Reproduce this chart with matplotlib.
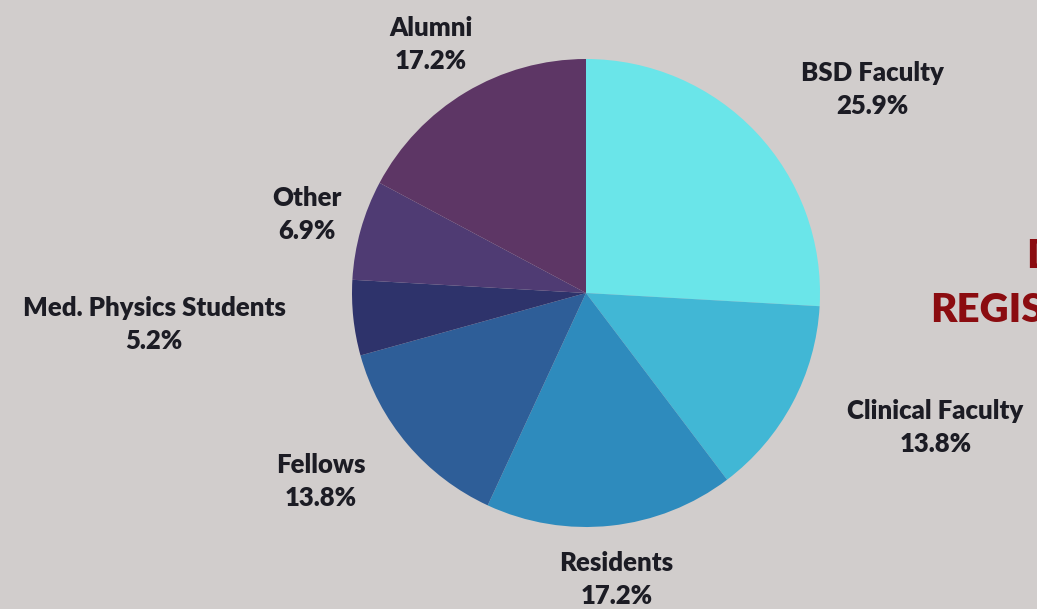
import numpy as np
import matplotlib
matplotlib.use('Agg')
import matplotlib.pyplot as plt

# data
groups = ['BSD Faculty', 'Clinical Faculty', 'Residents', 'Fellows',
          'Med. Physics Students', 'Other', 'Alumni']
shares = [25.9, 13.8, 17.2, 13.8, 5.2, 6.9, 17.2]
slice_colors = ['#6ae5e9', '#41b7d5', '#2e8bbd', '#2e5e98',
                '#2e336b', '#4f3b73', '#5d3665']

# how far out each label sits (in radii) and a small angle nudge
label_dist = [1.50, 1.60, 1.23, 1.39, 1.85, 1.24, 1.25]
label_nudge = [-8, 7, 0, -5, -2, 0, 1]

bg = '#d1cdcc'
plt.rcParams['font.family'] = ['Lato', 'DejaVu Sans']

fig = plt.figure(figsize=(10.37, 6.09), dpi=100, facecolor=bg)
ax = fig.add_axes([0, 0, 1, 1])
ax.set_facecolor(bg)

cx, cy, r = 586, 316, 234
wedges, _ = ax.pie(shares, colors=slice_colors, startangle=90, counterclock=False,
                   center=(cx, cy), radius=r, frame=True,
                   wedgeprops=dict(linewidth=0))
ax.set_xlim(0, 1037)
ax.set_ylim(0, 609)
ax.axis('off')

for w, name, val, d, dn in zip(wedges, groups, shares, label_dist, label_nudge):
    ang = np.deg2rad((w.theta1 + w.theta2) / 2 + dn)
    x = cx + d * r * np.cos(ang)
    y = cy + d * r * np.sin(ang)
    ax.text(x, y, '{0}\n{1:.1f}%'.format(name, val), ha='center', va='center',
            fontsize=18.5, fontweight='heavy', color='#1c1c24', linespacing=1.45)

# title, cut off at the right edge in the reference
ax.text(1026, 353, 'DEMOGRAPHICS', ha='left', va='center', fontsize=29,
        fontweight='heavy', color='#8b0c10', clip_on=False)
ax.text(930, 298, 'REGISTRANTS', ha='left', va='center', fontsize=29,
        fontweight='heavy', color='#8b0c10', clip_on=False)

plt.savefig('out.png', dpi=100, facecolor=bg)
